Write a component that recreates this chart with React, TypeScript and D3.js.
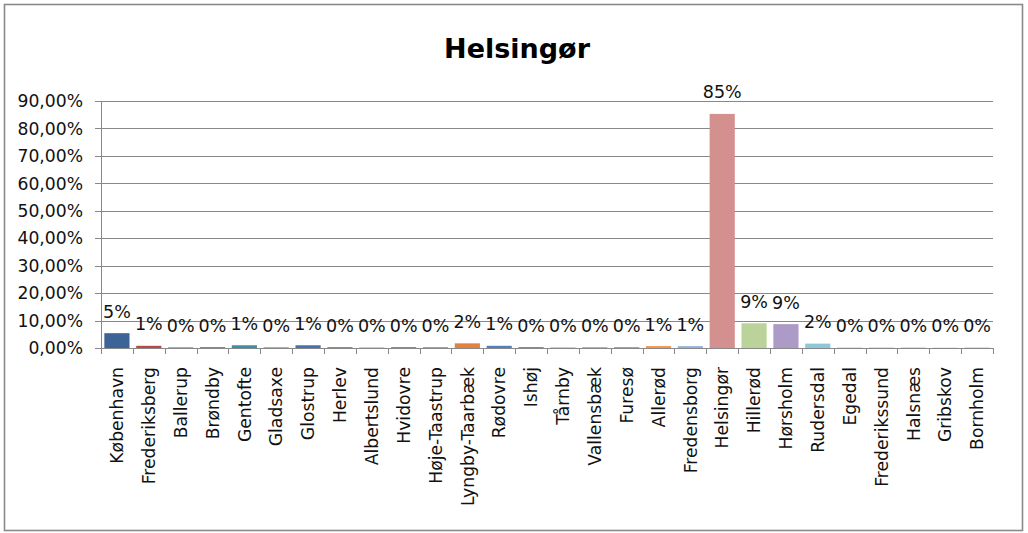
import React from "react";
import * as d3 from "d3";

const title = "Helsingør";

const categories = [
  "København", "Frederiksberg", "Ballerup", "Brøndby", "Gentofte", "Gladsaxe",
  "Glostrup", "Herlev", "Albertslund", "Hvidovre", "Høje-Taastrup", "Lyngby-Taarbæk",
  "Rødovre", "Ishøj", "Tårnby", "Vallensbæk", "Furesø", "Allerød", "Fredensborg",
  "Helsingør", "Hillerød", "Hørsholm", "Rudersdal", "Egedal", "Frederikssund",
  "Halsnæs", "Gribskov", "Bornholm",
];

const values = [
  0.054, 0.008, 0.003, 0.003, 0.01, 0.003,
  0.01, 0.003, 0.002, 0.003, 0.003, 0.017,
  0.008, 0.003, 0.002, 0.002, 0.003, 0.007, 0.007,
  0.853, 0.09, 0.087, 0.016, 0.002, 0.002,
  0.002, 0.002, 0.002,
];

const barColors = [
  "#3c6496", "#b54a47", "#8fae57", "#7a5f99", "#3a8fa5", "#e08f4e",
  "#4472b0", "#c45451", "#9bbb59", "#8064a2", "#4bacc6", "#e5813f",
  "#4f81bd", "#c0504d", "#9bbb59", "#8064a2", "#4bacc6", "#f79646", "#95b3d7",
  "#d48f8f", "#bbd39a", "#ac9bc6", "#8cc8d9", "#fac090", "#b9cde5",
  "#e6b9b8", "#d7e4bd", "#ccc1da",
];

const yTicks = [0, 0.1, 0.2, 0.3, 0.4, 0.5, 0.6, 0.7, 0.8, 0.9];

const W = 1028;
const H = 533;
const plotLeft = 101;
const plotRight = 993;
const plotTop = 101;
const plotBottom = 348;
const font = "'DejaVu Sans', sans-serif";

const locale = d3.formatLocale({
  decimal: ",",
  thousands: ".",
  grouping: [3],
  currency: ["", " kr"],
});
const fmtAxis = locale.format(".2%");
const fmtLabel = locale.format(".0%");

export default function App() {
  const x = d3
    .scaleBand<string>()
    .domain(categories)
    .range([plotLeft, plotRight])
    .paddingInner(0.21)
    .paddingOuter(0.105);
  const step = x.step();
  const y = d3.scaleLinear().domain([0, 0.9]).range([plotBottom, plotTop]);

  return (
    <svg
      width={W}
      height={H}
      style={{ position: "absolute", left: 0, top: 0, background: "#fff" }}
    >
      <rect x={0} y={0} width={W} height={H} fill="#fff" />
      <rect
        x={4.5}
        y={4.5}
        width={1018}
        height={526}
        fill="#fff"
        stroke="#8a8a8a"
        strokeWidth={1.6}
      />
      <text
        x={517}
        y={58}
        textAnchor="middle"
        fontFamily={font}
        fontWeight="bold"
        fontSize={27}
        fill="#000"
      >
        {title}
      </text>

      {/* gridlines and y ticks */}
      {yTicks.map((t) => (
        <g key={t}>
          <line
            x1={plotLeft - 6}
            x2={plotRight}
            y1={Math.round(y(t)) + 0.5}
            y2={Math.round(y(t)) + 0.5}
            stroke="#888"
            strokeWidth={1}
          />
          <text
            x={83}
            y={y(t)}
            dy="0.36em"
            textAnchor="end"
            fontFamily={font}
            fontSize={17.2}
            fill="#111"
          >
            {fmtAxis(t)}
          </text>
        </g>
      ))}

      {/* y axis line */}
      <line
        x1={plotLeft + 0.5}
        x2={plotLeft + 0.5}
        y1={plotTop}
        y2={plotBottom + 6}
        stroke="#888"
        strokeWidth={1}
      />

      {/* category tick marks */}
      {categories.map((c, i) => (
        <line
          key={"t" + c}
          x1={Math.round(plotLeft + (i + 1) * step) + 0.5}
          x2={Math.round(plotLeft + (i + 1) * step) + 0.5}
          y1={plotBottom}
          y2={plotBottom + 6}
          stroke="#888"
          strokeWidth={1}
        />
      ))}

      {/* bars */}
      {categories.map((c, i) => (
        <rect
          key={"b" + c}
          x={x(c)}
          y={y(values[i])}
          width={x.bandwidth()}
          height={plotBottom - y(values[i])}
          fill={barColors[i]}
        />
      ))}

      {/* data labels */}
      {categories.map((c, i) => (
        <text
          key={"l" + c}
          x={(x(c) as number) + x.bandwidth() / 2}
          y={y(values[i]) - 15.5}
          textAnchor="middle"
          fontFamily={font}
          fontSize={17.5}
          fill="#111"
        >
          {fmtLabel(values[i])}
        </text>
      ))}

      {/* x labels */}
      {categories.map((c) => {
        const cx = (x(c) as number) + x.bandwidth() / 2;
        const ly = 367;
        return (
          <text
            key={"x" + c}
            transform={`translate(${cx},${ly}) rotate(-90)`}
            textAnchor="end"
            dy="0.36em"
            fontFamily={font}
            fontSize={17.2}
            fill="#111"
          >
            {c}
          </text>
        );
      })}
    </svg>
  );
}
